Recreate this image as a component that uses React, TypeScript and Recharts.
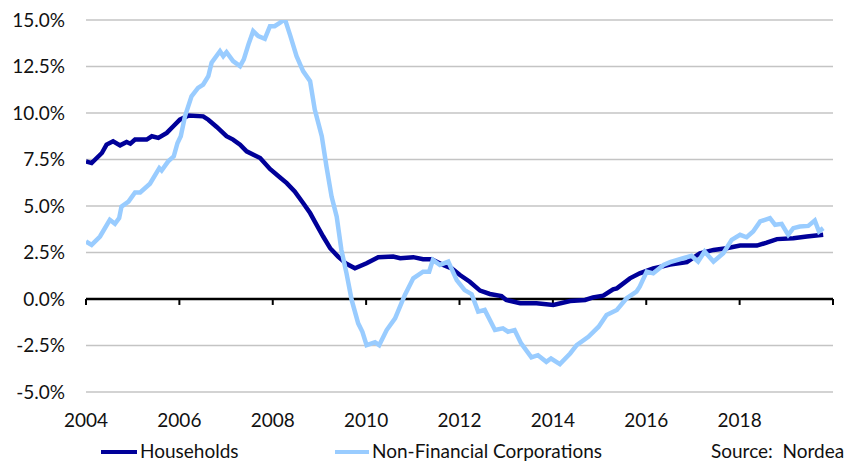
import React from "react";
import { CartesianGrid, Line, LineChart, ReferenceLine, XAxis, YAxis } from "recharts";

// decimal years
const householdDates = [
  2004.0, 2004.12, 2004.34, 2004.44, 2004.58, 2004.73, 2004.87, 2004.95, 2005.05, 2005.3, 2005.41, 2005.55,
  2005.73, 2005.87, 2006.01, 2006.19, 2006.51, 2006.62, 2006.8, 2007.01, 2007.15, 2007.3, 2007.44, 2007.73,
  2007.94, 2008.15, 2008.3, 2008.47, 2008.65, 2008.8, 2008.94, 2009.08, 2009.23, 2009.4, 2009.58, 2009.76,
  2010.01, 2010.26, 2010.58, 2010.73, 2011.01, 2011.22, 2011.4, 2011.65, 2011.83, 2012.01, 2012.22, 2012.44,
  2012.65, 2012.9, 2013.0, 2013.3, 2013.65, 2014.01, 2014.37, 2014.69, 2014.86, 2015.08, 2015.29, 2015.37,
  2015.65, 2015.86, 2016.15, 2016.51, 2016.87, 2017.15, 2017.44, 2017.72, 2018.01, 2018.37, 2018.58, 2018.8,
  2019.15, 2019.44, 2019.79,
];
const householdValues = [
  7.4, 7.31, 7.85, 8.3, 8.48, 8.26, 8.44, 8.35, 8.57, 8.57, 8.75, 8.66,
  8.93, 9.29, 9.64, 9.86, 9.82, 9.64, 9.25, 8.75, 8.57, 8.3, 7.94, 7.58,
  6.99, 6.55, 6.23, 5.78, 5.16, 4.62, 3.99, 3.36, 2.73, 2.28, 1.89, 1.65,
  1.92, 2.25, 2.28, 2.19, 2.25, 2.14, 2.14, 1.83, 1.65, 1.29, 0.93, 0.45,
  0.27, 0.16, -0.05, -0.23, -0.23, -0.32, -0.11, -0.05, 0.09, 0.18, 0.52, 0.57,
  1.11, 1.38, 1.64, 1.85, 1.98, 2.46, 2.64, 2.73, 2.87, 2.87, 3.03, 3.22,
  3.27, 3.36, 3.45,
];

const corporateDates = [
  2004.0, 2004.12, 2004.3, 2004.51, 2004.62, 2004.71, 2004.76, 2004.91, 2005.05, 2005.16, 2005.37, 2005.57,
  2005.62, 2005.76, 2005.88, 2005.96, 2006.03, 2006.12, 2006.26, 2006.4, 2006.51, 2006.62, 2006.69, 2006.87,
  2006.94, 2007.01, 2007.15, 2007.3, 2007.38, 2007.48, 2007.58, 2007.69, 2007.83, 2007.94, 2008.04, 2008.15,
  2008.26, 2008.37, 2008.51, 2008.65, 2008.8, 2008.9, 2009.05, 2009.15, 2009.26, 2009.37, 2009.47, 2009.58,
  2009.69, 2009.83, 2009.92, 2010.01, 2010.19, 2010.28, 2010.44, 2010.62, 2010.83, 2011.01, 2011.22, 2011.35,
  2011.43, 2011.58, 2011.76, 2011.94, 2012.11, 2012.26, 2012.4, 2012.54, 2012.76, 2012.93, 2013.04, 2013.18,
  2013.32, 2013.54, 2013.68, 2013.86, 2013.96, 2014.15, 2014.37, 2014.51, 2014.76, 2014.98, 2015.15, 2015.37,
  2015.58, 2015.79, 2015.86, 2016.01, 2016.15, 2016.37, 2016.51, 2016.79, 2016.97, 2017.11, 2017.25, 2017.44,
  2017.65, 2017.83, 2018.01, 2018.15, 2018.29, 2018.44, 2018.65, 2018.76, 2018.9, 2019.04, 2019.15, 2019.29,
  2019.47, 2019.61, 2019.7, 2019.79,
];
const corporateValues = [
  3.09, 2.91, 3.36, 4.26, 4.04, 4.35, 4.97, 5.24, 5.73, 5.73, 6.2, 7.04,
  6.91, 7.4, 7.67, 8.39, 8.75, 9.82, 10.9, 11.35, 11.53, 11.98, 12.7, 13.32,
  13.05, 13.27, 12.79, 12.52, 12.88, 13.69, 14.4, 14.13, 13.99, 14.67, 14.67, 14.85,
  15.05, 14.2, 13.05, 12.25, 11.71, 10.18, 8.75, 7.13, 5.51, 4.43, 2.64, 1.38,
  -0.05, -1.31, -1.76, -2.48, -2.33, -2.48, -1.67, -1.04, 0.22, 1.11, 1.47, 1.47,
  2.1, 1.83, 2.01, 1.02, 0.48, 0.26, -0.68, -0.59, -1.67, -1.58, -1.76, -1.67,
  -2.39, -3.14, -3.02, -3.38, -3.2, -3.5, -2.93, -2.48, -2.03, -1.49, -0.86, -0.59,
  0.04, 0.39, 0.66, 1.47, 1.38, 1.83, 1.98, 2.19, 2.32, 2.01, 2.55, 2.01,
  2.46, 3.18, 3.45, 3.32, 3.63, 4.17, 4.35, 3.99, 4.04, 3.45, 3.81, 3.9,
  3.93, 4.22, 3.63, 3.81,
];

const yTicks = [-5, -2.5, 0, 2.5, 5, 7.5, 10, 12.5, 15];
const xTicks = [2004, 2006, 2008, 2010, 2012, 2014, 2016, 2018];
const tickYears = [2004, 2006, 2008, 2010, 2012, 2014, 2016, 2018, 2020];

const HOUSEHOLDS = "#000099";
const CORPORATES = "#99ccff";
const FONT = "Lato, 'Open Sans', sans-serif";

const households = householdDates.map((t, i) => ({ t, v: householdValues[i] }));
const corporates = corporateDates.map((t, i) => ({ t, v: corporateValues[i] }));

const tickStyle = { fontSize: 19, fill: "#111", fontFamily: FONT };
const legendText = { position: "absolute" as const, top: 441, fontSize: 19, lineHeight: "20px", color: "#111", whiteSpace: "pre" as const };

export default function App() {
  return (
    <div style={{ position: "absolute", left: 0, top: 0, width: 852, height: 461, background: "#fff", fontFamily: FONT, overflow: "hidden" }}>
      <LineChart width={852} height={461} margin={{ top: 20, right: 19, bottom: 0, left: 0 }}>
        <CartesianGrid vertical={false} stroke="#c4c4c4" strokeWidth={1.5} />
        <XAxis
          type="number"
          dataKey="t"
          domain={[2004, 2020]}
          ticks={xTicks}
          allowDataOverflow
          axisLine={false}
          tickLine={false}
          tickSize={6}
          tickMargin={16}
          height={69}
          tick={tickStyle}
        />
        <YAxis
          domain={[-5, 15]}
          ticks={yTicks}
          allowDataOverflow
          axisLine={false}
          tickLine={false}
          tickSize={6}
          tickMargin={15}
          width={86}
          tick={tickStyle}
          tickFormatter={(v: number) => `${v.toFixed(1)}%`}
        />
        <ReferenceLine y={0} stroke="#000" strokeWidth={2.5} />
        {tickYears.map((yr) => (
          <ReferenceLine
            key={yr}
            segment={[{ x: yr, y: 0 }, { x: yr, y: -0.32 }]}
            stroke="#000"
            strokeWidth={2}
          />
        ))}
        <Line data={households} dataKey="v" type="linear" stroke={HOUSEHOLDS} strokeWidth={4.5} dot={false} isAnimationActive={false} />
        <Line data={corporates} dataKey="v" type="linear" stroke={CORPORATES} strokeWidth={4.5} dot={false} isAnimationActive={false} />
      </LineChart>

      <div style={{ position: "absolute", left: 101, top: 450, width: 36, height: 4, background: HOUSEHOLDS }} />
      <div style={{ ...legendText, left: 140 }}>Households</div>
      <div style={{ position: "absolute", left: 335, top: 450, width: 34, height: 4, background: CORPORATES }} />
      <div style={{ ...legendText, left: 372 }}>Non-Financial Corporations</div>
      <div style={{ ...legendText, left: 711 }}>Source:  Nordea</div>
    </div>
  );
}
